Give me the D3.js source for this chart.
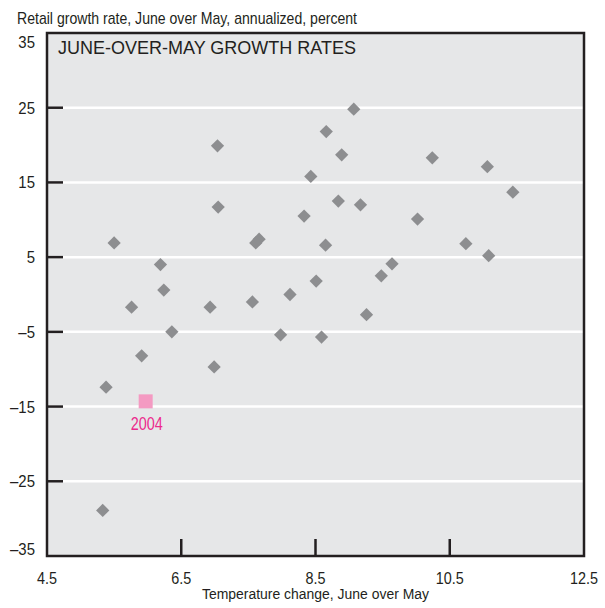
<!DOCTYPE html>
<html>
<head>
<meta charset="utf-8">
<script src="https://cdn.jsdelivr.net/npm/d3@7"></script>
<style>
  body { margin: 0; background: #fff; }
  svg text { font-family: "Liberation Sans", Arial, sans-serif; fill: #231f20; }
</style>
</head>
<body>
<div id="chart"></div>
<script>
// temperature change (x) vs retail growth rate (y), one point per year
var tempChange = [5.38, 5.33, 5.50, 5.76, 5.91, 6.19, 6.24, 6.36, 6.93, 6.99,
                  7.04, 7.05, 7.56, 7.61, 7.66, 7.98, 8.12, 8.33, 8.43, 8.51,
                  8.59, 8.65, 8.66, 8.84, 8.89, 9.07, 9.17, 9.26, 9.48, 9.64,
                  10.02, 10.24, 10.74, 11.06, 11.08, 11.44];
var growthRate = [-12.4, -28.9, 6.9, -1.7, -8.2, 4.0, 0.6, -5.0, -1.7, -9.7,
                  19.9, 11.7, -1.0, 6.9, 7.4, -5.4, 0.0, 10.5, 15.8, 1.8,
                  -5.7, 6.6, 21.8, 12.5, 18.7, 24.8, 12.0, -2.7, 2.5, 4.1,
                  10.1, 18.3, 6.8, 17.1, 5.2, 13.7];
var highlightLabel = "2004";
var highlightX = 5.97;
var highlightY = -14.3;

var xTicks = [4.5, 6.5, 8.5, 10.5, 12.5];
var yTicks = [35, 25, 15, 5, -5, -15, -25, -35];

var width = 605, height = 608;
var margin = { top: 33, right: 21, bottom: 52, left: 47 };
var w = width - margin.left - margin.right;
var h = height - margin.top - margin.bottom;

var svg = d3.select("#chart").append("svg")
  .attr("width", width)
  .attr("height", height);

var x = d3.scaleLinear().domain([4.5, 12.5]).range([margin.left, margin.left + w]);
var y = d3.scaleLinear().domain([-35, 35]).range([margin.top + h, margin.top]);

// no condensed font installed, so squeeze text horizontally
function narrowText(parent, px, py, str, size, sx, anchor) {
  var g = parent.append("g")
    .attr("transform", "translate(" + px + "," + py + ") scale(" + sx + ",1)");
  return g.append("text")
    .attr("text-anchor", anchor || "start")
    .style("font-size", size + "px")
    .text(str);
}

// plot background
svg.append("rect")
  .attr("x", x(4.5)).attr("y", y(35))
  .attr("width", w).attr("height", h)
  .attr("fill", "#e6e7e8");

// gridlines (white) with black ticks on the left
var inner = yTicks.filter(function(d) { return d > -35 && d < 35; });
svg.selectAll(".grid")
  .data(inner)
  .enter().append("line")
  .attr("class", "grid")
  .attr("x1", x(4.5)).attr("x2", x(12.5))
  .attr("y1", function(d) { return y(d); })
  .attr("y2", function(d) { return y(d); })
  .attr("stroke", "#fff")
  .attr("stroke-width", 2.5);

svg.selectAll(".ytick")
  .data(inner)
  .enter().append("line")
  .attr("class", "ytick")
  .attr("x1", x(4.5)).attr("x2", x(4.5) + 16)
  .attr("y1", function(d) { return y(d); })
  .attr("y2", function(d) { return y(d); })
  .attr("stroke", "#231f20")
  .attr("stroke-width", 2.5);

var xInner = xTicks.filter(function(d) { return d > 4.5 && d < 12.5; });
svg.selectAll(".xtick")
  .data(xInner)
  .enter().append("line")
  .attr("class", "xtick")
  .attr("x1", function(d) { return x(d); })
  .attr("x2", function(d) { return x(d); })
  .attr("y1", y(-35)).attr("y2", y(-35) - 17)
  .attr("stroke", "#231f20")
  .attr("stroke-width", 2.5);

// frame
svg.append("rect")
  .attr("x", x(4.5)).attr("y", y(35))
  .attr("width", w).attr("height", h)
  .attr("fill", "none")
  .attr("stroke", "#231f20")
  .attr("stroke-width", 2.5);

// tick labels
yTicks.forEach(function(d) {
  var py = y(d) + 6;
  if (d === 35) py = y(d) + 15;
  if (d === -35) py = y(d) - 1;
  var label = d < 0 ? "\u2013" + Math.abs(d) : String(d);
  narrowText(svg, x(4.5) - 12, py, label, 17, 0.88, "end");
});

xTicks.forEach(function(d) {
  narrowText(svg, x(d), y(-35) + 28, d3.format(".1f")(d), 16, 0.9, "middle");
});

// axis titles
narrowText(svg, 17, 24, "Retail growth rate, June over May, annualized, percent", 16, 0.88, "start");
narrowText(svg, (x(6.5) + x(10.5)) / 2, 599, "Temperature change, June over May", 15, 0.93, "middle");

// panel title
svg.append("text")
  .attr("x", 58).attr("y", 54)
  .style("font-size", "18px")
  .text("JUNE-OVER-MAY GROWTH RATES");

// points
var points = tempChange.map(function(d, i) { return { x: d, y: growthRate[i] }; });
var diamond = d3.symbol().type(d3.symbolSquare).size(88);

svg.selectAll(".pt")
  .data(points)
  .enter().append("path")
  .attr("class", "pt")
  .attr("d", diamond)
  .attr("transform", function(d) {
    return "translate(" + x(d.x) + "," + y(d.y) + ") rotate(45)";
  })
  .attr("fill", "#8d8e90");

// highlighted year
svg.append("path")
  .attr("d", d3.symbol().type(d3.symbolSquare).size(196))
  .attr("transform", "translate(" + x(highlightX) + "," + y(highlightY) + ")")
  .attr("fill", "#f49ac2");

narrowText(svg, x(highlightX) + 1, y(highlightY) + 29, highlightLabel, 18, 0.8, "middle")
  .style("fill", "#ec2a8c");
</script>
</body>
</html>
